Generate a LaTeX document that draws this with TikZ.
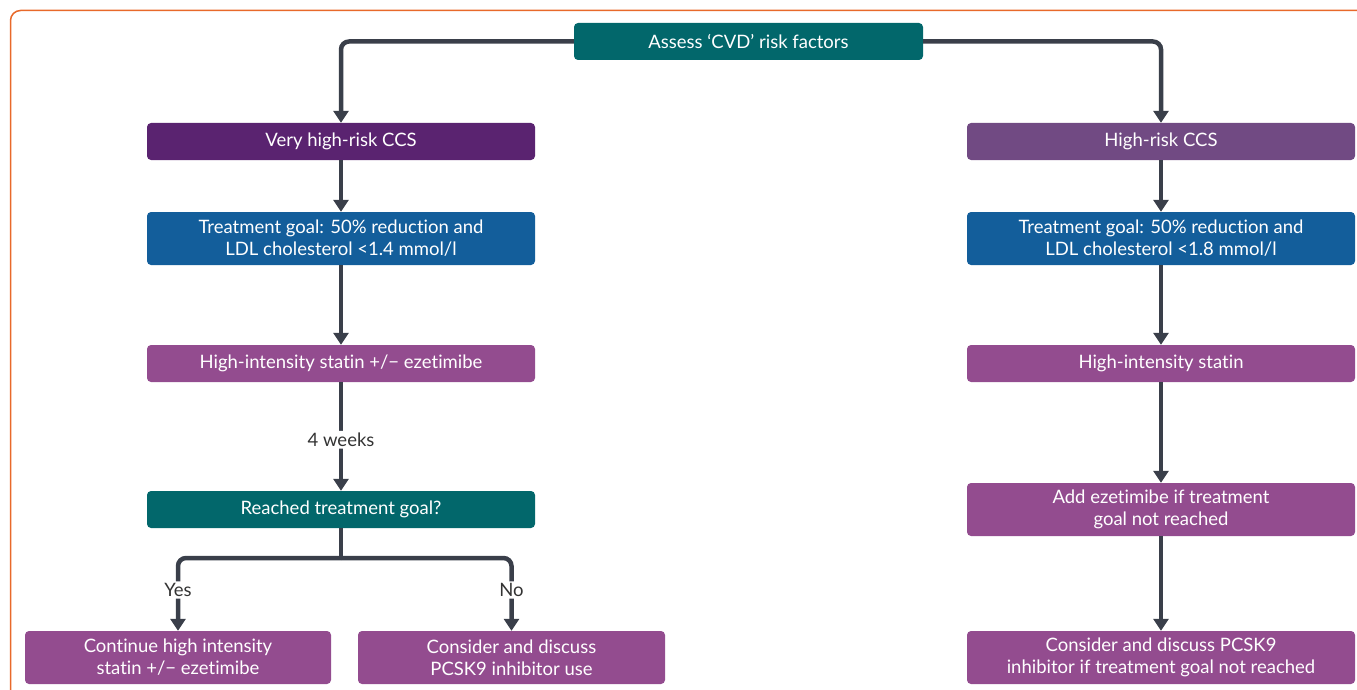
\documentclass[tikz,border=0pt]{standalone}
\usepackage{fontspec}
\setmainfont{Lato}[Ligatures=NoCommon]
\usetikzlibrary{arrows.meta}
\definecolor{teal1}{HTML}{02676B}
\definecolor{purpD}{HTML}{5A2370}
\definecolor{purpM}{HTML}{714A83}
\definecolor{purpL}{HTML}{934C8F}
\definecolor{blueB}{HTML}{135E9B}
\definecolor{lineC}{HTML}{3A3F4A}
\definecolor{orangeB}{HTML}{E8692A}
\definecolor{labC}{HTML}{333333}
\tikzset{
  box/.style={rounded corners=4pt, text=white, align=center, inner sep=0pt,
    font=\fontsize{18.5}{22}\selectfont},
  conn/.style={draw=lineC, line width=4.5pt, rounded corners=8pt,
    -{Triangle[length=12pt,width=15pt]}},
  plain/.style={draw=lineC, line width=4.5pt, rounded corners=8pt},
  lab/.style={fill=white, text=labC, inner sep=2pt, font=\fontsize{18.5}{22}\selectfont}
}
\begin{document}
\begin{tikzpicture}[x=1pt,y=-1pt]
\useasboundingbox (0,0) rectangle (1357,690);
\clip (0,0) rectangle (1357,690);
\draw[orangeB, line width=1.5pt, rounded corners=10pt] (10.5,10.5) rectangle (1380,720);

% nodes
\node[box, fill=teal1, minimum width=349pt, minimum height=37pt] (assess) at (748.5,41.5) {Assess ‘CVD’ risk factors};
\node[box, fill=purpD, minimum width=388pt, minimum height=37pt] (vh) at (341,141.5) {Very high-risk CCS};
\node[box, fill=purpM, minimum width=388pt, minimum height=37pt] (hr) at (1161,141.5) {High-risk CCS};
\node[box, fill=blueB, minimum width=388pt, minimum height=53pt] (tgl) at (341,238.5) {Treatment goal: 50\% reduction and\\LDL cholesterol <1.4 mmol/l};
\node[box, fill=blueB, minimum width=388pt, minimum height=53pt] (tgr) at (1161,238.5) {Treatment goal: 50\% reduction and\\LDL cholesterol <1.8 mmol/l};
\node[box, fill=purpL, minimum width=388pt, minimum height=37pt] (stl) at (341,363.5) {High-intensity statin +/− ezetimibe};
\node[box, fill=purpL, minimum width=388pt, minimum height=37pt] (str) at (1161,363.5) {High-intensity statin};
\node[box, fill=teal1, minimum width=388pt, minimum height=37pt] (reach) at (341,509.5) {Reached treatment goal?};
\node[box, fill=purpL, minimum width=388pt, minimum height=53pt] (eze) at (1161,509.5) {Add ezetimibe if treatment\\goal not reached};
\node[box, fill=purpL, minimum width=306pt, minimum height=53pt] (cont) at (178,657.5) {Continue high intensity\\statin +/− ezetimibe};
\node[box, fill=purpL, minimum width=307pt, minimum height=53pt] (pcl) at (511.5,657.5) {Consider and discuss\\PCSK9 inhibitor use};
\node[box, fill=purpL, minimum width=388pt, minimum height=53pt] (pcr) at (1161,657.5) {Consider and discuss PCSK9\\inhibitor if treatment goal not reached};

% connectors
\draw[conn] (assess.west) -| (vh.north);
\draw[conn] (assess.east) -| (hr.north);
\draw[conn] (vh.south) -- (tgl.north);
\draw[conn] (hr.south) -- (tgr.north);
\draw[conn] (tgl.south) -- (stl.north);
\draw[conn] (tgr.south) -- (str.north);
\draw[conn] (stl.south) -- node[lab, pos=0.53] {4 weeks} (reach.north);
\draw[conn] (str.south) -- (eze.north);
\draw[conn] (eze.south) -- (pcr.north);
\coordinate (br) at (341,558);
\draw[plain] (reach.south) -- (br);
\draw[conn] (br) -| node[lab, pos=0.72] {Yes} (cont.north);
\draw[conn] (br) -| node[lab, pos=0.72] {No} (pcl.north);
\end{tikzpicture}
\end{document}
